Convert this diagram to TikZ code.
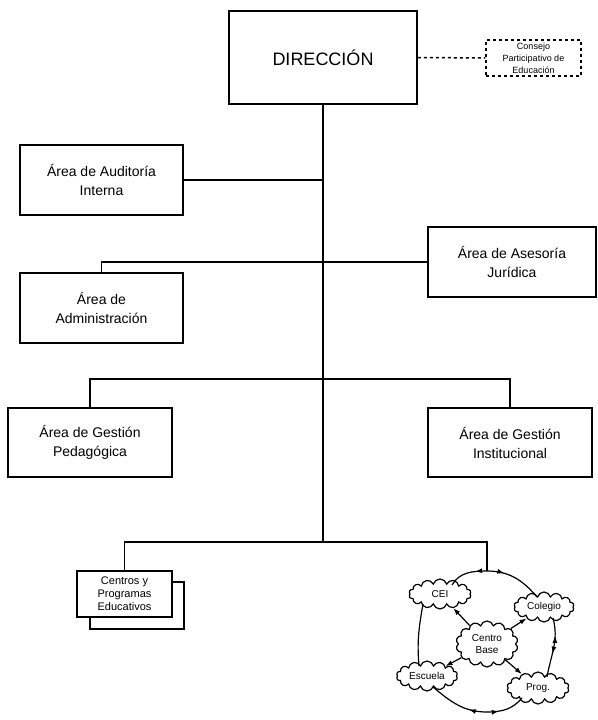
\documentclass[tikz,border=0pt]{standalone}
\usepackage{fontspec}
\setmainfont{Liberation Sans}
\usetikzlibrary{shapes.symbols,arrows.meta,decorations.markings}

\begin{document}
\begin{tikzpicture}[x=1pt,y=-1pt,line width=1.5pt,
    area/.style={draw,fill=white,align=center,font=\fontsize{14}{19}\selectfont},
    smallbox/.style={draw,fill=white,align=center,inner sep=1pt},
    nube/.style={cloud,cloud puffs=14,cloud puff arc=150,draw,line width=1.2pt,
      cloud ignores aspect,minimum width=62pt,minimum height=30pt,
      align=center,inner sep=0pt,font=\fontsize{10}{12}\selectfont},
    flecha/.style={-{Latex[length=7pt,width=5pt]},line width=1.2pt},
    marca/.style={postaction={decorate},decoration={markings,
      mark=at position #1 with {\arrow{Latex[length=7pt,width=5pt]}}}}]
  \useasboundingbox (0,0) rectangle (597,720);

  % cajas principales
  \node[area,minimum width=188pt,minimum height=93pt,font=\fontsize{18}{22}\selectfont]
    (dir) at (323,57.5) {DIRECCIÓN};
  \node[smallbox,dashed,minimum width=95pt,minimum height=36pt,font=\fontsize{9}{12}\selectfont]
    (consejo) at (533.5,58) {Consejo\\Participativo de\\Educación};
  \node[area,minimum width=163pt,minimum height=70pt] (audit) at (101.5,180) {Área de Auditoría\\Interna};
  \node[area,minimum width=168pt,minimum height=70pt] (asesor) at (512,262) {Área de Asesoría\\Jurídica};
  \node[area,minimum width=163pt,minimum height=70pt] (admin) at (101.5,308) {Área de\\Administración};
  \node[area,minimum width=164pt,minimum height=69pt] (pedag) at (90,442.5) {Área de Gestión\\Pedagógica};
  \node[area,minimum width=164pt,minimum height=69pt] (instit) at (510,442.5) {Área de Gestión\\Institucional};

  % centros (con sombra)
  \node[smallbox,minimum width=94pt,minimum height=47pt] (sombra) at (137,605.5) {};
  \node[smallbox,minimum width=95pt,minimum height=46pt,font=\fontsize{11}{13}\selectfont]
    (centros) at (124.5,594) {Centros y\\Programas\\Educativos};

  % nubes
  \node[nube] (cei) at (440,594) {CEI};
  \node[nube,minimum width=60pt] (colegio) at (544,607) {Colegio};
  \node[nube,minimum height=46pt] (base) at (487,644) {Centro\\Base};
  \node[nube,minimum width=61pt] (escuela) at (427,676) {Escuela};
  \node[nube,minimum height=32pt] (prog) at (538,688) {Prog.};

  \coordinate (tronco) at (323,542);
  \coordinate (arriba) at (487,571);
  \coordinate (abajo) at (487,712);

  % conexiones
  \draw (dir.south) -- (tronco);
  \draw[dashed] (dir.east) -- (consejo.west);
  \draw (audit.east) -- (audit.east -| tronco);
  \draw (admin.north) |- (asesor.west);
  \draw (pedag.north) |- (323,379) -| (instit.north);
  \draw (centros.north) |- (tronco) -| (arriba);

  % ciclo
  \draw[line width=1.2pt,marca=0.3] (arriba) to[out=180,in=60] (452,585);
  \draw[line width=1.2pt,marca=0.3] (arriba) to[out=0,in=130] (537,597);
  \draw[line width=1.2pt,marca=0.3] (abajo) to[out=180,in=-40] (433,687);
  \draw[line width=1.2pt,marca=0.3] (abajo) to[out=0,in=-130] (522,698);
  \draw[line width=1.2pt] (423,604) to[out=-100,in=95] (419,666);
  \draw[line width=1.2pt,postaction={decorate},decoration={markings,
      mark=at position 0.3 with {\arrowreversed{Latex[length=7pt,width=5pt]}},
      mark=at position 0.6 with {\arrow{Latex[length=7pt,width=5pt]}}}]
    (553,618) to[out=-75,in=80] (547,677);

  \draw[flecha] (base) -- (cei);
  \draw[flecha] (base) -- (colegio);
  \draw[flecha] (base) -- (escuela);
  \draw[flecha] (base) -- (prog);
\end{tikzpicture}
\end{document}
